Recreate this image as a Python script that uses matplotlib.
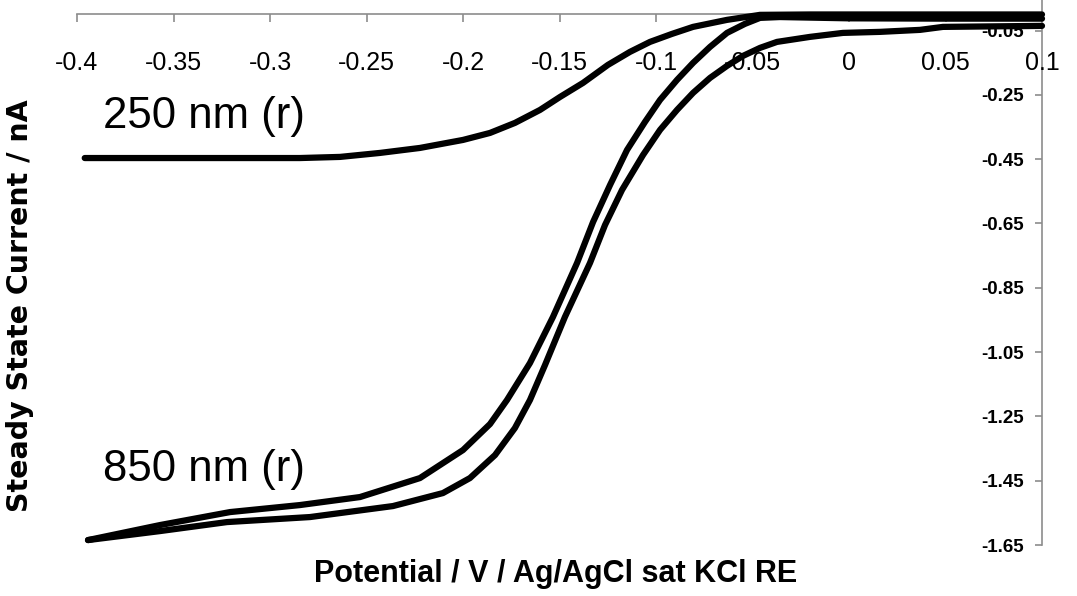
import numpy as np
import matplotlib.pyplot as plt

# data (potential in V, current in nA)
x_250 = [-0.396, -0.336, -0.2845, -0.2637, -0.243, -0.2223, -0.200, -0.186, -0.1731,
         -0.1601, -0.1497, -0.1378, -0.1249, -0.1135, -0.1031, -0.0917, -0.0808,
         -0.0632, -0.0461, -0.02, 0.02, 0.06, 0.1]
y_250 = [-0.4465, -0.4465, -0.4465, -0.443, -0.4306, -0.4151, -0.3902, -0.3684,
         -0.3373, -0.2969, -0.2564, -0.2128, -0.1568, -0.1164, -0.0853, -0.0604,
         -0.0386, -0.0168, -0.0012, 0.0, 0.0, 0.0, 0.0]

# 850 nm, inner (left) branch
x_850a = [-0.3943, -0.357, -0.3207, -0.2845, -0.2534, -0.2223, -0.200, -0.186,
          -0.1772, -0.1653, -0.1534, -0.1409, -0.1326, -0.1238, -0.115, -0.1057,
          -0.0979, -0.0891, -0.0808, -0.072, -0.0632, -0.0539, -0.0461, -0.0358,
          0.0, 0.05, 0.1]
y_850a = [-1.6347, -1.588, -1.5476, -1.5258, -1.5009, -1.4418, -1.3547, -1.2738,
          -1.1991, -1.084, -0.9409, -0.7728, -0.6453, -0.5302, -0.4213, -0.3341,
          -0.2657, -0.2035, -0.1506, -0.1008, -0.0573, -0.0292, -0.0106, -0.008,
          -0.012, -0.013, -0.013]

# 850 nm, outer (right) branch
x_850b = [-0.3943, -0.357, -0.3223, -0.2793, -0.2363, -0.2104, -0.1964, -0.1834,
          -0.1731, -0.1653, -0.1575, -0.1472, -0.1342, -0.1264, -0.1176, -0.1067,
          -0.0979, -0.0891, -0.0808, -0.072, -0.0632, -0.0549, -0.0461, -0.0373,
          -0.0202, -0.0031, 0.0161, 0.0368, 0.0487, 0.1]
y_850b = [-1.6347, -1.6067, -1.5787, -1.5631, -1.5289, -1.4885, -1.4418, -1.3703,
          -1.2862, -1.1991, -1.0902, -0.9409, -0.7728, -0.6546, -0.5457, -0.4368,
          -0.359, -0.2968, -0.2439, -0.1973, -0.1599, -0.1288, -0.1039, -0.0853,
          -0.0697, -0.0573, -0.0541, -0.0479, -0.0386, -0.0355]

x_ticks = [-0.4, -0.35, -0.3, -0.25, -0.2, -0.15, -0.1, -0.05, 0, 0.05, 0.1]
x_ticklabels = ['-0.4', '-0.35', '-0.3', '-0.25', '-0.2', '-0.15', '-0.1', '-0.05',
                '0', '0.05', '0.1']
y_ticks = [-1.65, -1.45, -1.25, -1.05, -0.85, -0.65, -0.45, -0.25, -0.05]
y_ticklabels = ['-1.65', '-1.45', '-1.25', '-1.05', '-0.85', '-0.65', '-0.45',
                '-0.25', '-0.05']

fig = plt.figure(figsize=(10.77, 5.96), dpi=100)
ax = fig.add_axes([77 / 1077, 51 / 596, 965 / 1077, 545 / 596])

for xs, ys in [(x_250, y_250), (x_850a, y_850a), (x_850b, y_850b)]:
    ax.plot(xs, ys, color='black', lw=4.5, solid_capstyle='round',
            solid_joinstyle='round', zorder=4, clip_on=False)

ax.set_xlim(-0.4, 0.1)
ax.set_ylim(-1.65, 0.045)

ax.spines['top'].set_visible(False)
ax.spines['right'].set_visible(False)
ax.spines['bottom'].set_position(('data', 0))
ax.spines['left'].set_position(('data', 0.1))
for s in ['bottom', 'left']:
    ax.spines[s].set_color('#8c8c8c')
    ax.spines[s].set_linewidth(1.2)
    ax.spines[s].set_zorder(1)

ax.set_xticks(x_ticks)
ax.set_xticklabels(x_ticklabels, fontfamily='Liberation Sans', fontsize=18)
ax.set_yticks(y_ticks)
ax.set_yticklabels(y_ticklabels, fontfamily='Liberation Sans', fontweight='bold', fontsize=13.5)
ax.tick_params(axis='x', direction='out', length=6, width=1.2, color='#8c8c8c', pad=20)
ax.tick_params(axis='y', direction='out', length=5, width=1.2, color='#8c8c8c', pad=8)

ax.text(-0.3865, -0.3186, '250 nm (r)', fontfamily='Liberation Sans', fontsize=31.5,
        ha='left', va='center')
ax.text(-0.3865, -1.4138, '850 nm (r)', fontfamily='Liberation Sans', fontsize=31.5,
        ha='left', va='center')

fig.text(556 / 1077, 1 - 574 / 596, 'Potential / V / Ag/AgCl sat KCl RE',
         fontfamily='Liberation Sans', fontweight='bold', fontsize=22,
         ha='center', va='center')
fig.text(20 / 1077, 1 - 306 / 596, 'Steady State Current / nA', fontfamily='DejaVu Sans',
         fontweight='bold', fontsize=20.5, rotation=90, ha='center', va='center')

fig.savefig('out.png', dpi=100)
